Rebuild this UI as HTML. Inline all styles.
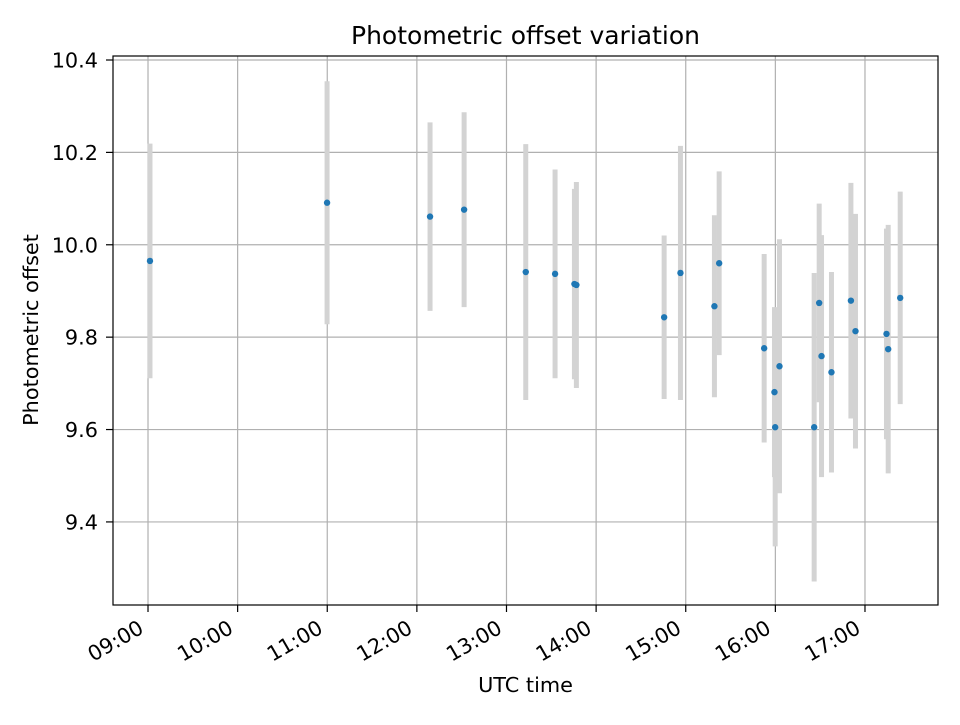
<!DOCTYPE html>
<html><head><meta charset="utf-8"><style>
html,body{margin:0;padding:0;background:#fff;}
svg text{font-family:"DejaVu Sans","Liberation Sans",sans-serif;fill:#000;}
</style></head><body>
<svg id="chart" width="960" height="720" xmlns="http://www.w3.org/2000/svg">
<rect x="0" y="0" width="960" height="720" fill="#fff"/>
<g id="grid"></g>
<g id="errs"></g>
<g id="pts"></g>
<rect x="113" y="56" width="825" height="549" fill="none" stroke="#000" stroke-width="1.2"/>
<g id="axes"></g>
<text x="525.5" y="44" text-anchor="middle" font-size="25">Photometric offset variation</text>
<text x="525.5" y="692" text-anchor="middle" font-size="20.8">UTC time</text>
<text transform="translate(38,330) rotate(-90)" text-anchor="middle" font-size="20.8">Photometric offset</text>
</svg>
<script>
const timesH = [9.022,10.998,12.147,12.527,13.215,13.542,13.758,13.780,14.759,14.941,15.320,15.373,15.875,15.990,15.998,16.046,16.433,16.489,16.515,16.626,16.843,16.894,17.240,17.259,17.393];
const offsets = [9.965,10.091,10.061,10.076,9.941,9.937,9.915,9.913,9.843,9.939,9.867,9.960,9.776,9.681,9.605,9.737,9.605,9.874,9.759,9.724,9.879,9.813,9.807,9.774,9.885];
const errors = [0.254,0.263,0.204,0.211,0.277,0.226,0.206,0.223,0.177,0.275,0.197,0.199,0.204,0.184,0.258,0.275,0.334,0.215,0.262,0.217,0.255,0.254,0.228,0.269,0.230];
const xTicks = [9,10,11,12,13,14,15,16,17];
const xTickLabels = ["09:00","10:00","11:00","12:00","13:00","14:00","15:00","16:00","17:00"];
const yTicks = [9.4,9.6,9.8,10.0,10.2,10.4];
const yTickLabels = ["9.4","9.6","9.8","10.0","10.2","10.4"];

const NS="http://www.w3.org/2000/svg";
const L=113,R=938,T=56,B=605;
const xMin=9-35/89.6, xMax=17+73/89.6;
const yMin=9.4-83/461.5, yMax=10.4+4/461.5;
function xs(h){return L+(h-xMin)/(xMax-xMin)*(R-L);}
function ys(v){return B-(v-yMin)/(yMax-yMin)*(B-T);}
function mk(tag,attrs,parent){const e=document.createElementNS(NS,tag);for(const k in attrs)e.setAttribute(k,attrs[k]);parent.appendChild(e);return e;}
const grid=document.getElementById('grid'),axes=document.getElementById('axes'),errs=document.getElementById('errs'),pts=document.getElementById('pts');

xTicks.forEach((t,i)=>{
  const x=xs(t);
  const g=mk('line',{x1:x,x2:x,y1:T,y2:B,stroke:'#b0b0b0','stroke-width':1.2},grid);
  
  
  const tk=mk('line',{x1:x,x2:x,y1:B,y2:B+7,stroke:'#000','stroke-width':1.2},axes);
  
  
  const tx=mk('text',{'text-anchor':'end','font-size':20.8,transform:`translate(${x-3},${632}) rotate(-30)`},axes);
  tx.textContent=xTickLabels[i];
  
  
});
yTicks.forEach((t,i)=>{
  const y=ys(t);
  const g=mk('line',{x1:L,x2:R,y1:y,y2:y,stroke:'#b0b0b0','stroke-width':1.2},grid);
  
  
  const tk=mk('line',{x1:L-7,x2:L,y1:y,y2:y,stroke:'#000','stroke-width':1.2},axes);
  
  
  const tx=mk('text',{x:98,y:y+7.5,'text-anchor':'end','font-size':20.8},axes);
  tx.textContent=yTickLabels[i];
  
  
});
timesH.forEach((h,i)=>{
  const x=xs(h);
  const e=mk('line',{x1:x,x2:x,y1:ys(offsets[i]+errors[i]),y2:ys(offsets[i]-errors[i]),stroke:'#d3d3d3','stroke-width':5},errs);
  
  
  const c=mk('circle',{cx:x,cy:ys(offsets[i]),r:3.2,fill:'#1f77b4'},pts);
  
  
});
</script>
</body></html>
